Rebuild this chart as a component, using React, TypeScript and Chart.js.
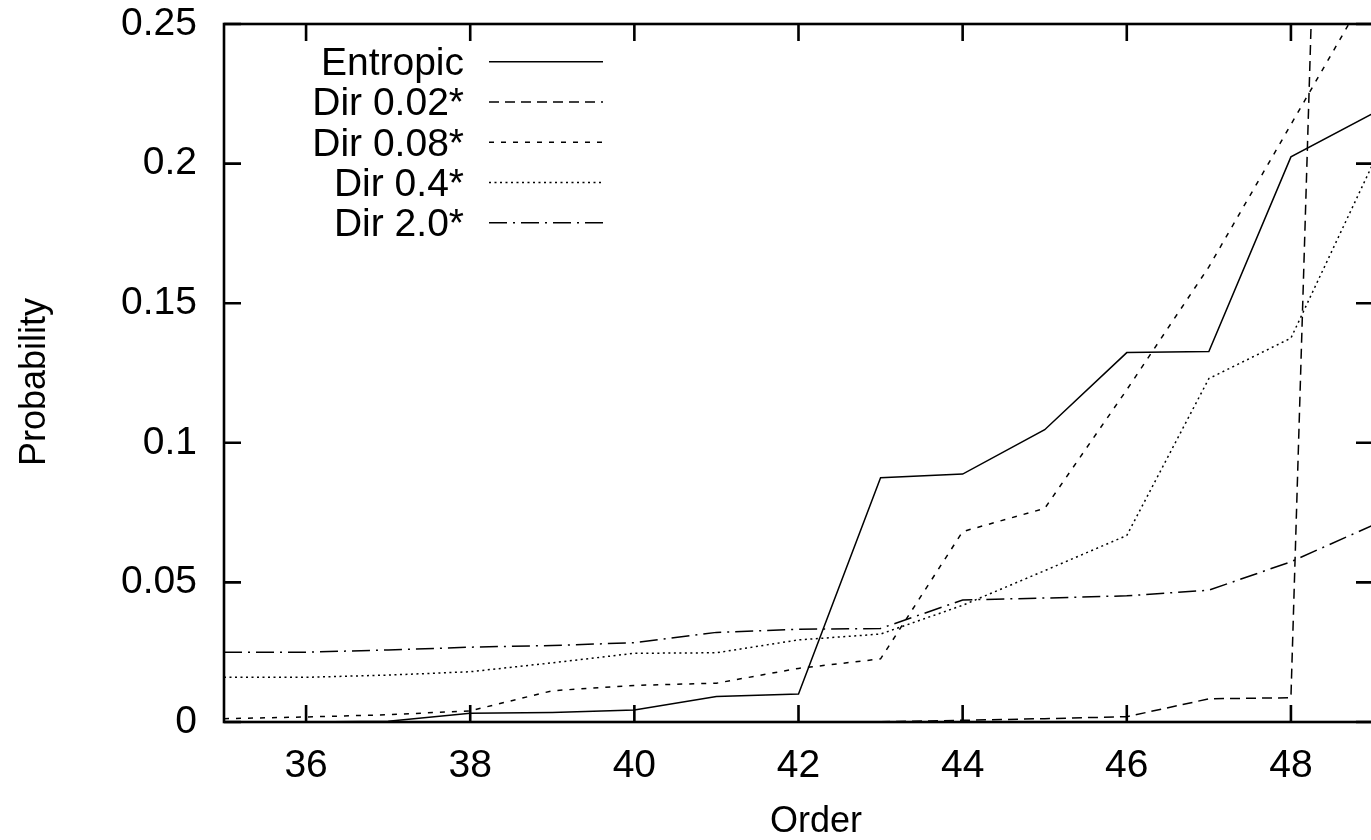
import React, { useEffect, useRef } from 'react';
import { Chart, registerables } from 'chart.js';

Chart.register(...registerables);

// ---- data ----
const orders = [35, 36, 37, 38, 39, 40, 41, 42, 43, 44, 45, 46, 47, 48, 49];
const entropic = [0, 0, 0.0003, 0.0031, 0.0034, 0.0043, 0.0091, 0.01, 0.0875, 0.0888, 0.1047, 0.1323, 0.1327, 0.2024, 0.218];
const dir002 = [0, 0, 0, 0, 0, 0, 0, 0, 0.0001, 0.0006, 0.0012, 0.0019, 0.0083, 0.0087, 0.99];
const dir008 = [0.0012, 0.0018, 0.0026, 0.004, 0.0112, 0.0131, 0.0139, 0.0192, 0.0226, 0.0682, 0.0765, 0.119, 0.163, 0.214, 0.265];
const dir04 = [0.016, 0.016, 0.0168, 0.018, 0.0212, 0.0246, 0.0248, 0.0294, 0.0315, 0.0418, 0.0542, 0.0668, 0.123, 0.1375, 0.2];
const dir20 = [0.025, 0.025, 0.0258, 0.0268, 0.0274, 0.0284, 0.0321, 0.0332, 0.0335, 0.0437, 0.0444, 0.0452, 0.0472, 0.0574, 0.0705];

const seriesLabels = ['Entropic', 'Dir 0.02*', 'Dir 0.08*', 'Dir 0.4*', 'Dir 2.0*'];
const seriesValues = [entropic, dir002, dir008, dir04, dir20];
const seriesDashes: number[][] = [[], [10, 6], [5, 7], [2, 3.5], [18, 6, 2, 6]];

const xTickValues = [36, 38, 40, 42, 44, 46, 48];
const yTickValues = [0, 0.05, 0.1, 0.15, 0.2, 0.25];

const xTitle = 'Order';
const yTitle = 'Probability';

const FONT = '"Liberation Sans", Arial, Helvetica, sans-serif';
const TICK_SIZE = 39;
const TITLE_SIZE = 36;

const gnuplotFrame = {
  id: 'gnuplotFrame',
  afterDatasetsDraw(chart: any) {
    const { ctx, chartArea, scales } = chart;
    const { left, right, top, bottom } = chartArea;
    const TL = 17;
    ctx.save();
    ctx.strokeStyle = '#000';
    ctx.setLineDash([]);
    ctx.lineWidth = 2.6;
    ctx.beginPath();
    xTickValues.forEach((v) => {
      const px = scales.x.getPixelForValue(v);
      ctx.moveTo(px, bottom);
      ctx.lineTo(px, bottom - TL);
      ctx.moveTo(px, top);
      ctx.lineTo(px, top + TL);
    });
    yTickValues.forEach((v) => {
      const py = scales.y.getPixelForValue(v);
      ctx.moveTo(left, py);
      ctx.lineTo(left + TL, py);
      ctx.moveTo(right, py);
      ctx.lineTo(right - TL, py);
    });
    ctx.stroke();
    ctx.strokeRect(left, top, right - left, bottom - top);

    // key (legend): right-aligned label, then line sample
    ctx.font = `${TICK_SIZE}px ${FONT}`;
    ctx.fillStyle = '#000';
    ctx.textAlign = 'right';
    ctx.textBaseline = 'alphabetic';
    chart.data.datasets.forEach((ds: any, i: number) => {
      const y = 61.7 + i * 40.25;
      ctx.fillText(ds.label, 464, y + 13.5);
      ctx.lineWidth = 1.5;
      ctx.setLineDash(ds.borderDash || []);
      ctx.beginPath();
      ctx.moveTo(489, y);
      ctx.lineTo(603, y);
      ctx.stroke();
    });

    // axis titles (gnuplot places them slightly off the area centre)
    ctx.setLineDash([]);
    ctx.font = `${TITLE_SIZE}px ${FONT}`;
    ctx.textAlign = 'center';
    ctx.textBaseline = 'middle';
    ctx.fillText(xTitle, 816, 822);
    ctx.save();
    ctx.translate(35, 382);
    ctx.rotate(-Math.PI / 2);
    ctx.fillText(yTitle, 0, 0);
    ctx.restore();
    ctx.restore();
  },
};

export default function App() {
  const ref = useRef<HTMLCanvasElement | null>(null);

  useEffect(() => {
    if (!ref.current) return;
    const datasets = seriesLabels.map((label, i) => ({
      label,
      data: orders.map((x, j) => ({ x, y: seriesValues[i][j] })),
      borderColor: '#000',
      backgroundColor: '#000',
      borderWidth: 1.5,
      borderDash: seriesDashes[i],
      pointRadius: 0,
      tension: 0,
      fill: false,
    }));

    const tickFont = { family: FONT, size: TICK_SIZE, lineHeight: 1 };

    const chart = new Chart(ref.current, {
      type: 'line',
      data: { datasets },
      plugins: [gnuplotFrame],
      options: {
        animation: false,
        responsive: false,
        devicePixelRatio: 1,
        layout: { padding: { top: 24, right: 2, left: 0, bottom: 0 } },
        plugins: { legend: { display: false }, tooltip: { enabled: false } },
        scales: {
          x: {
            type: 'linear',
            min: 35,
            max: 49,
            grid: { display: false, drawTicks: false },
            border: { display: false },
            afterBuildTicks: (s: any) => {
              s.ticks = xTickValues.map((v) => ({ value: v }));
            },
            afterFit: (s: any) => {
              s.height = 118;
              s.paddingLeft = 0;
              s.paddingRight = 0;
            },
            ticks: {
              padding: 25,
              color: '#000',
              font: tickFont,
              maxRotation: 0,
              autoSkip: false,
              callback: (v: any) => String(v),
            },
            title: { display: false, text: xTitle },
          },
          y: {
            type: 'linear',
            min: 0,
            max: 0.25,
            grid: { display: false, drawTicks: false },
            border: { display: false },
            afterBuildTicks: (s: any) => {
              s.ticks = yTickValues.map((v) => ({ value: v }));
            },
            afterFit: (s: any) => {
              s.width = 224;
              s.paddingTop = 0;
              s.paddingBottom = 0;
            },
            ticks: {
              padding: 27,
              color: '#000',
              font: tickFont,
              autoSkip: false,
              callback: (v: any) => String(Number(Number(v).toFixed(2))),
            },
            title: { display: false, text: yTitle },
          },
        },
      } as any,
    });
    return () => chart.destroy();
  }, []);

  return (
    <div
      style={{
        position: 'fixed',
        left: 0,
        top: 0,
        width: 1371,
        height: 840,
        overflow: 'hidden',
        background: '#fff',
      }}
    >
      <canvas ref={ref} width={1375} height={840} style={{ display: 'block' }} />
    </div>
  );
}
